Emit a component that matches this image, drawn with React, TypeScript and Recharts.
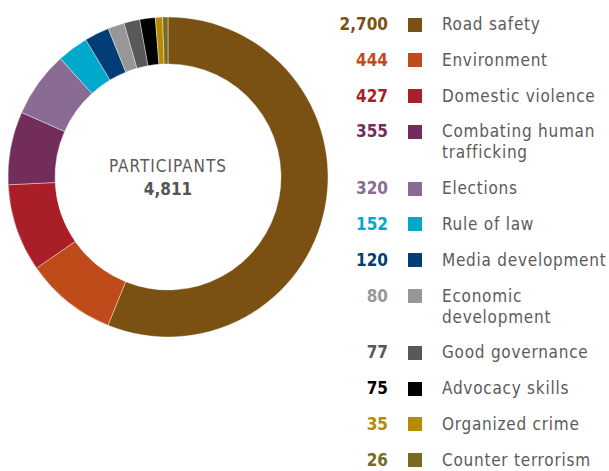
import React from 'react'
import { Cell, Legend, Pie, PieChart } from 'recharts'

const topics = [
  'Road safety',
  'Environment',
  'Domestic violence',
  'Combating human\ntrafficking',
  'Elections',
  'Rule of law',
  'Media development',
  'Economic\ndevelopment',
  'Good governance',
  'Advocacy skills',
  'Organized crime',
  'Counter terrorism',
]
const participants = [2700, 444, 427, 355, 320, 152, 120, 80, 77, 75, 35, 26]
const colors = [
  '#7b5113',
  '#c04b1a',
  '#a91e27',
  '#732d5b',
  '#896b94',
  '#00a9cb',
  '#033d78',
  '#979797',
  '#595959',
  '#000000',
  '#b88a00',
  '#7a6b24',
]
const totalLabel = 'PARTICIPANTS'

const data = topics.map((name, i) => ({ name, value: participants[i] }))
const total = participants.reduce((a, b) => a + b, 0)

const FONT = '"DejaVu Sans Condensed", "DejaVu Sans", sans-serif'

const LegendBox = () => (
  <div style={{ fontFamily: FONT, fontSize: 17 }}>
    {data.map((d, i) => (
      <div
        key={d.name}
        style={{ display: 'flex', alignItems: 'flex-start', marginBottom: i === data.length - 1 ? 0 : 14.8, lineHeight: '21px' }}
      >
        <div style={{ width: 68, textAlign: 'right', fontWeight: 'bold', color: colors[i] }}>
          {d.value.toLocaleString('en-US')}
        </div>
        <div style={{ width: 14, height: 14, background: colors[i], marginLeft: 20, marginTop: 3.5 }} />
        <div style={{ marginLeft: 20, color: '#5b5b5b', whiteSpace: 'pre', textAlign: 'left', letterSpacing: 0.75 }}>
          {d.name}
        </div>
      </div>
    ))}
  </div>
)

export default function App() {
  return (
    <div style={{ position: 'absolute', left: 0, top: 0, width: 609, height: 471, background: '#fff' }}>
      <PieChart width={609} height={471} margin={{ top: 0, right: 0, bottom: 0, left: 0 }}>
        <Pie
          data={data}
          dataKey="value"
          nameKey="name"
          cx={168}
          cy={177}
          innerRadius={113}
          outerRadius={160}
          startAngle={90}
          endAngle={-270}
          stroke="#fff"
          strokeWidth={0.4}
          isAnimationActive={false}
        >
          {data.map((d, i) => (
            <Cell key={d.name} fill={colors[i]} />
          ))}
        </Pie>
        <text x={168} y={166} textAnchor="middle" dominantBaseline="central" fontFamily={FONT} fontSize={17} letterSpacing={1} fill="#5b5b5b">
          {totalLabel}
        </text>
        <text x={168} y={189} textAnchor="middle" dominantBaseline="central" fontFamily={FONT} fontSize={17} fontWeight="bold" fill="#555">
          {total.toLocaleString('en-US')}
        </text>
        <Legend
          content={() => <LegendBox />}
          wrapperStyle={{ position: 'absolute', left: 320, top: 14, width: 289 }}
        />
      </PieChart>
    </div>
  )
}
